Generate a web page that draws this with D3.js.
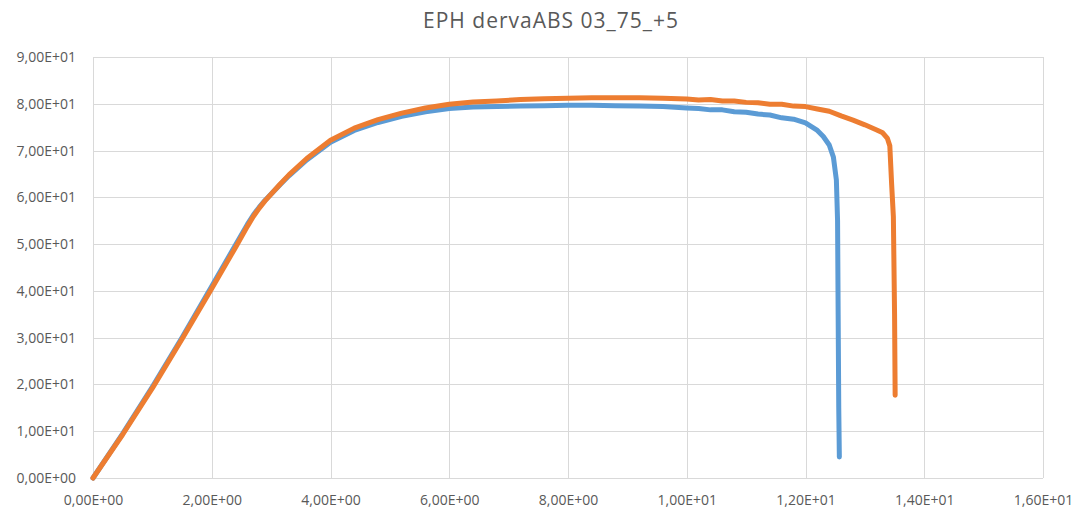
<!DOCTYPE html>
<html>
<head>
<meta charset="utf-8">
<script src="https://cdn.jsdelivr.net/npm/d3@7"></script>
<style>
  body { margin: 0; background: #fff; }
  .chart text { font-family: "Open Sans", sans-serif; fill: #595959; }
</style>
</head>
<body>
<div class="chart"></div>
<script>
// Chart data
var chartTitle = "EPH dervaABS 03_75_+5";

var xTicks = [0, 2, 4, 6, 8, 10, 12, 14, 16];
var xTickLabels = ["0,00E+00", "2,00E+00", "4,00E+00", "6,00E+00", "8,00E+00",
                   "1,00E+01", "1,20E+01", "1,40E+01", "1,60E+01"];
var yTicks = [0, 10, 20, 30, 40, 50, 60, 70, 80, 90];
var yTickLabels = ["0,00E+00", "1,00E+01", "2,00E+01", "3,00E+01", "4,00E+01",
                   "5,00E+01", "6,00E+01", "7,00E+01", "8,00E+01", "9,00E+01"];

var blueX = [0, 0.5, 1.0, 1.5, 2.0, 2.4, 2.6, 2.7, 2.8, 2.9, 3.0, 3.15, 3.3, 3.6, 4.0, 4.4,
             4.8, 5.2, 5.6, 6.0, 6.4, 6.8, 7.2, 7.6, 8.0, 8.4, 8.8, 9.2, 9.6, 10.0, 10.2,
             10.4, 10.6, 10.8, 11.0, 11.2, 11.4, 11.6, 11.8, 12.0, 12.2, 12.3, 12.4, 12.47,
             12.52, 12.54, 12.55, 12.56, 12.57];
var blueY = [0, 9.5, 19.5, 30, 41, 49.8, 54.2, 56.2, 57.9, 59.4, 60.7, 62.7, 64.6, 68, 71.8, 74.3,
             76, 77.3, 78.3, 79.0, 79.3, 79.4, 79.5, 79.6, 79.7, 79.7, 79.6, 79.5, 79.4, 79.1, 79.0,
             78.7, 78.7, 78.3, 78.2, 77.8, 77.6, 77.0, 76.7, 75.9, 74.3, 73.0, 71.2, 68.6,
             63.7, 55, 35, 15, 4.5];

var orangeX = [0, 0.5, 1.0, 1.5, 2.0, 2.4, 2.6, 2.7, 2.8, 2.9, 3.0, 3.15, 3.3, 3.6, 4.0, 4.4,
               4.8, 5.2, 5.6, 6.0, 6.4, 6.8, 7.2, 7.6, 8.0, 8.4, 8.8, 9.2, 9.6, 10.0, 10.2,
               10.4, 10.6, 10.8, 11.0, 11.2, 11.4, 11.6, 11.8, 12.0, 12.2, 12.4, 12.6, 12.8,
               13.0, 13.2, 13.3, 13.38, 13.42, 13.45, 13.48, 13.50, 13.51];
var orangeY = [0, 9.3, 19.2, 29.7, 40.5, 49.3, 53.8, 55.9, 57.7, 59.3, 60.7, 62.8, 64.8, 68.3, 72.2, 74.8,
               76.6, 78, 79.1, 79.9, 80.4, 80.6, 80.9, 81.1, 81.2, 81.3, 81.3, 81.3, 81.2, 81.0, 80.8,
               80.9, 80.6, 80.6, 80.3, 80.2, 79.9, 79.9, 79.5, 79.4, 78.9, 78.4, 77.4, 76.5,
               75.5, 74.4, 73.8, 72.6, 71.0, 63, 55.8, 35, 17.7];

// Set up chart
var svgWidth = 1087;
var svgHeight = 513;
var margin = {top: 57, right: 44, bottom: 35, left: 93};
var width = svgWidth - margin.left - margin.right;
var height = svgHeight - margin.top - margin.bottom;

var svg = d3.select(".chart")
  .append("svg")
  .attr("width", svgWidth)
  .attr("height", svgHeight);

svg.append("text")
  .attr("x", 551)
  .attr("y", 28)
  .attr("text-anchor", "middle")
  .style("font-size", "21px")
  .style("letter-spacing", "1px")
  .text(chartTitle);

var g = svg.append("g")
  .attr("transform", "translate(" + margin.left + "," + margin.top + ")");

var x = d3.scaleLinear().domain([0, 16]).range([0, width]);
var y = d3.scaleLinear().domain([0, 90]).range([height, 0]);

// Gridlines
g.append("g")
  .selectAll("line")
  .data(yTicks)
  .enter()
  .append("line")
  .attr("x1", 0)
  .attr("x2", width)
  .attr("y1", function(d) { return Math.round(y(d)) + 0.5; })
  .attr("y2", function(d) { return Math.round(y(d)) + 0.5; })
  .attr("stroke", "#d9d9d9");

g.append("g")
  .selectAll("line")
  .data(xTicks)
  .enter()
  .append("line")
  .attr("y1", 0)
  .attr("y2", height)
  .attr("x1", function(d) { return Math.round(x(d)) + 0.5; })
  .attr("x2", function(d) { return Math.round(x(d)) + 0.5; })
  .attr("stroke", "#d9d9d9");

// Axes (labels only, lines come from the grid)
var bottomAxis = d3.axisBottom(x)
  .tickValues(xTicks)
  .tickSize(0)
  .tickPadding(17)
  .tickFormat(function(d, i) { return xTickLabels[i]; });

var leftAxis = d3.axisLeft(y)
  .tickValues(yTicks)
  .tickSize(0)
  .tickPadding(17)
  .tickFormat(function(d, i) { return yTickLabels[i]; });

var xAxisG = g.append("g")
  .attr("transform", "translate(0," + height + ")")
  .call(bottomAxis);
var yAxisG = g.append("g").call(leftAxis);

[xAxisG, yAxisG].forEach(function(a) {
  a.select(".domain").remove();
  a.selectAll("text")
    .style("font-family", "'Open Sans', sans-serif")
    .style("font-size", "14px")
    .attr("fill", "#595959");
});

// Lines
var line = d3.line()
  .x(function(d) { return x(d[0]); })
  .y(function(d) { return y(d[1]); });

var blueData = blueX.map(function(v, i) { return [v, blueY[i]]; });
var orangeData = orangeX.map(function(v, i) { return [v, orangeY[i]]; });

g.append("path")
  .datum(blueData)
  .attr("d", line)
  .attr("fill", "none")
  .attr("stroke", "#5b9bd5")
  .attr("stroke-width", 5)
  .attr("stroke-linejoin", "round")
  .attr("stroke-linecap", "round");

g.append("path")
  .datum(orangeData)
  .attr("d", line)
  .attr("fill", "none")
  .attr("stroke", "#ed7d31")
  .attr("stroke-width", 5)
  .attr("stroke-linejoin", "round")
  .attr("stroke-linecap", "round");
</script>
</body>
</html>
